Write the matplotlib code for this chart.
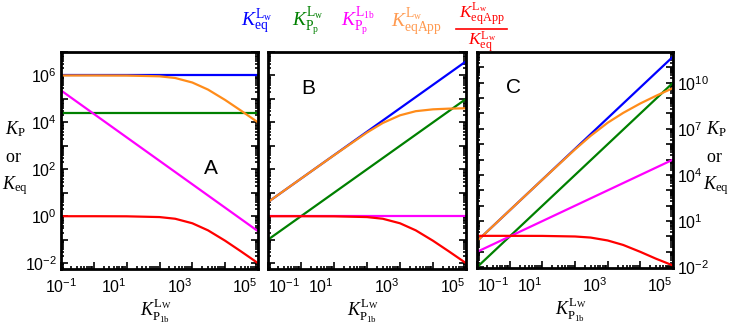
import matplotlib
matplotlib.use("Agg")
import matplotlib.pyplot as plt
from matplotlib.ticker import FixedLocator, FuncFormatter, LogLocator, NullFormatter
from matplotlib.lines import Line2D
import numpy as np

plt.rcParams['font.family'] = ['Liberation Sans', 'DejaVu Sans']
plt.rcParams['mathtext.fontset'] = 'custom'
plt.rcParams['mathtext.rm'] = 'Liberation Serif'
plt.rcParams['mathtext.it'] = 'Liberation Serif:italic'
plt.rcParams['mathtext.bf'] = 'Liberation Serif:bold'
plt.rcParams['axes.unicode_minus'] = False

# ---------------- data ----------------
x_line = [0.1, 1e5]
x_curve = [0.1, 1, 10, 100, 300, 1000, 3000, 1e4, 3e4, 1e5]

ratio = [1.0, 1.0, 0.99, 0.92, 0.78, 0.5, 0.25, 0.09, 0.032, 0.01]

# Panel A
A_keq = [1e6, 1e6]
A_kpp = [2.4e4, 2.4e4]
A_kp1b = [2.3e5, 0.23]
A_keqapp = [1e6, 1e6, 9.9e5, 9.2e5, 7.8e5, 5e5, 2.5e5, 9e4, 3.2e4, 1e4]
A_ratio = ratio

# Panel B
B_keq = [4.0, 4e6]
B_kpp = [0.1, 1e5]
B_kp1b = [1.0, 1.0]
B_keqapp = [4.0, 40, 396, 3700, 9400, 2e4, 3e4, 3.6e4, 3.85e4, 4e4]
B_ratio = ratio

# Panel C
C_keq = [0.5, 5e11]
C_kpp = [0.01, 1e10]
C_kp1b = [0.1, 1e5]
C_keqapp = [0.5, 50, 4950, 4.6e5, 3.5e6, 2.5e7, 1.1e8, 4.5e8, 1.4e9, 4.5e9]
C_ratio = [1.1, 1.1, 1.09, 1.0, 0.85, 0.55, 0.28, 0.1, 0.036, 0.013]

xtick_labels = [-1, 1, 3, 5]
A_ytick_labels = [-2, 0, 2, 4, 6]
C_ytick_labels = [-2, 1, 4, 7, 10]

# ---------------- styling ----------------
c_blue = '#0000FF'
c_green = '#008000'
c_mag = '#FF00FF'
c_orange = '#FF8C1A'
c_red = '#FF0000'

W, H = 735, 331
fig = plt.figure(figsize=(W / 100, H / 100), dpi=100)

def box(l, r, t, b):
    return [l / W, 1 - b / H, (r - l) / W, (b - t) / H]

axA = fig.add_axes(box(61, 258, 52, 269))
axB = fig.add_axes(box(268, 466, 52, 269))
axC = fig.add_axes(box(477, 673, 52, 268))

def fmt_factory(labeled):
    def f(v, pos):
        e = int(round(np.log10(v)))
        if e in labeled:
            return r'$\mathdefault{10^{%d}}$' % e
        return ''
    return f

def style(ax, ylim, ydec, ylabels, first_ha, right_labels=False, left_labels=False):
    ax.set_xscale('log')
    ax.set_yscale('log')
    ax.set_xlim(0.1, 1e5)
    ax.set_ylim(*ylim)
    for s in ax.spines.values():
        s.set_linewidth(2.0)
    ax.xaxis.set_major_locator(FixedLocator([10.0 ** e for e in range(-1, 6)]))
    ax.xaxis.set_minor_locator(LogLocator(base=10, subs=np.arange(2, 10), numticks=20))
    ax.xaxis.set_major_formatter(FuncFormatter(fmt_factory(xtick_labels)))
    ax.xaxis.set_minor_formatter(NullFormatter())
    ax.yaxis.set_major_locator(FixedLocator([10.0 ** e for e in ydec]))
    ax.yaxis.set_minor_locator(LogLocator(base=10, subs=np.arange(2, 10), numticks=30))
    ax.yaxis.set_minor_formatter(NullFormatter())
    if ylabels is not None:
        ax.yaxis.set_major_formatter(FuncFormatter(fmt_factory(ylabels)))
    else:
        ax.yaxis.set_major_formatter(NullFormatter())
    ax.tick_params(which='both', direction='in', left=True, right=True,
                   top=False, bottom=True, width=1.2, labelsize=11.5,
                   labelleft=left_labels, labelright=right_labels, pad=3)
    ax.tick_params(which='major', length=5)
    ax.tick_params(which='minor', length=2.5)
    ax.tick_params(axis='x', pad=6)
    ticks = ax.xaxis.get_major_ticks()
    for i, t in enumerate(ticks):
        t.label1.set_horizontalalignment(first_ha if i == 0 else 'right')

lw = 1.6
# Panel A
axA.plot(x_line, A_keq, color=c_blue, lw=lw)
axA.plot(x_line, A_kpp, color=c_green, lw=lw)
axA.plot(x_line, A_kp1b, color=c_mag, lw=lw)
axA.plot(x_curve, A_keqapp, color=c_orange, lw=lw)
axA.plot(x_curve, A_ratio, color=c_red, lw=lw)
style(axA, (10 ** -2.25, 1e7), range(-2, 8), A_ytick_labels, 'center', left_labels=True)

# Panel B
axB.plot(x_line, B_keq, color=c_blue, lw=lw)
axB.plot(x_line, B_kpp, color=c_green, lw=lw)
axB.plot(x_line, B_kp1b, color=c_mag, lw=lw)
axB.plot(x_curve, B_keqapp, color=c_orange, lw=lw)
axB.plot(x_curve, B_ratio, color=c_red, lw=lw)
style(axB, (10 ** -2.25, 1e7), range(-2, 8), None, 'left')

# Panel C
axC.plot(x_line, C_keq, color=c_blue, lw=lw)
axC.plot(x_line, C_kpp, color=c_green, lw=lw)
axC.plot(x_line, C_kp1b, color=c_mag, lw=lw)
axC.plot(x_curve, C_keqapp, color=c_orange, lw=lw)
axC.plot(x_curve, C_ratio, color=c_red, lw=lw)
style(axC, (10 ** -2.05, 1e12), range(-2, 12), C_ytick_labels, 'left', right_labels=True)

# panel letters
axA.text(0.76, 0.465, 'A', transform=axA.transAxes, fontsize=15, ha='center', va='center')
axB.text(0.205, 0.83, 'B', transform=axB.transAxes, fontsize=15, ha='center', va='center')
axC.text(0.185, 0.835, 'C', transform=axC.transAxes, fontsize=15, ha='center', va='center')

# x labels
xlab = r'$K_{\mathrm{P}_{\mathrm{1b}}}^{\mathrm{L}_{\mathrm{W}}}$'
for ax in (axA, axB, axC):
    ax.text(0.48, -0.194, xlab, transform=ax.transAxes, fontsize=13,
            ha='center', va='center')

# y labels
def fx(px):
    return px / W

def fy(py):
    return 1 - py / H

for xx in (15, 716):
    fig.text(fx(xx), fy(129), r'$K_{\mathrm{P}}$', fontsize=13, ha='center', va='center')
    fig.text(fx(xx - 2), fy(158), r'$\mathrm{or}$', fontsize=13, ha='center', va='center')
    fig.text(fx(xx), fy(186), r'$K_{\mathrm{eq}}$', fontsize=13, ha='center', va='center')

# header legend
fig.text(fx(257), fy(22), r'$K_{\mathrm{eq}}^{\mathrm{L}_{\mathrm{w}}}$', color=c_blue,
         fontsize=14, ha='center', va='center')
fig.text(fx(308), fy(22), r'$K_{\mathrm{P}_{\mathrm{p}}}^{\mathrm{L}_{\mathrm{w}}}$', color=c_green,
         fontsize=14, ha='center', va='center')
fig.text(fx(358), fy(22), r'$K_{\mathrm{P}_{\mathrm{p}}}^{\mathrm{L}_{\mathrm{1b}}}$', color=c_mag,
         fontsize=14, ha='center', va='center')
fig.text(fx(417), fy(22), r'$K_{\mathrm{eqApp}}^{\mathrm{L}_{\mathrm{w}}}$', color='#FF9A50',
         fontsize=14, ha='center', va='center')
fig.text(fx(482), fy(28), r'$K_{\mathrm{eqApp}}^{\mathrm{L}_{\mathrm{w}}}$', color=c_red,
         fontsize=12.5, ha='center', va='bottom')
fig.add_artist(Line2D([fx(456), fx(507)], [fy(28.5), fy(28.5)], color=c_red, lw=1.2,
                      transform=fig.transFigure))
fig.text(fx(482), fy(29.5), r'$K_{\mathrm{eq}}^{\mathrm{L}_{\mathrm{w}}}$', color=c_red,
         fontsize=12.5, ha='center', va='top')

fig.savefig('out.png', dpi=100)
